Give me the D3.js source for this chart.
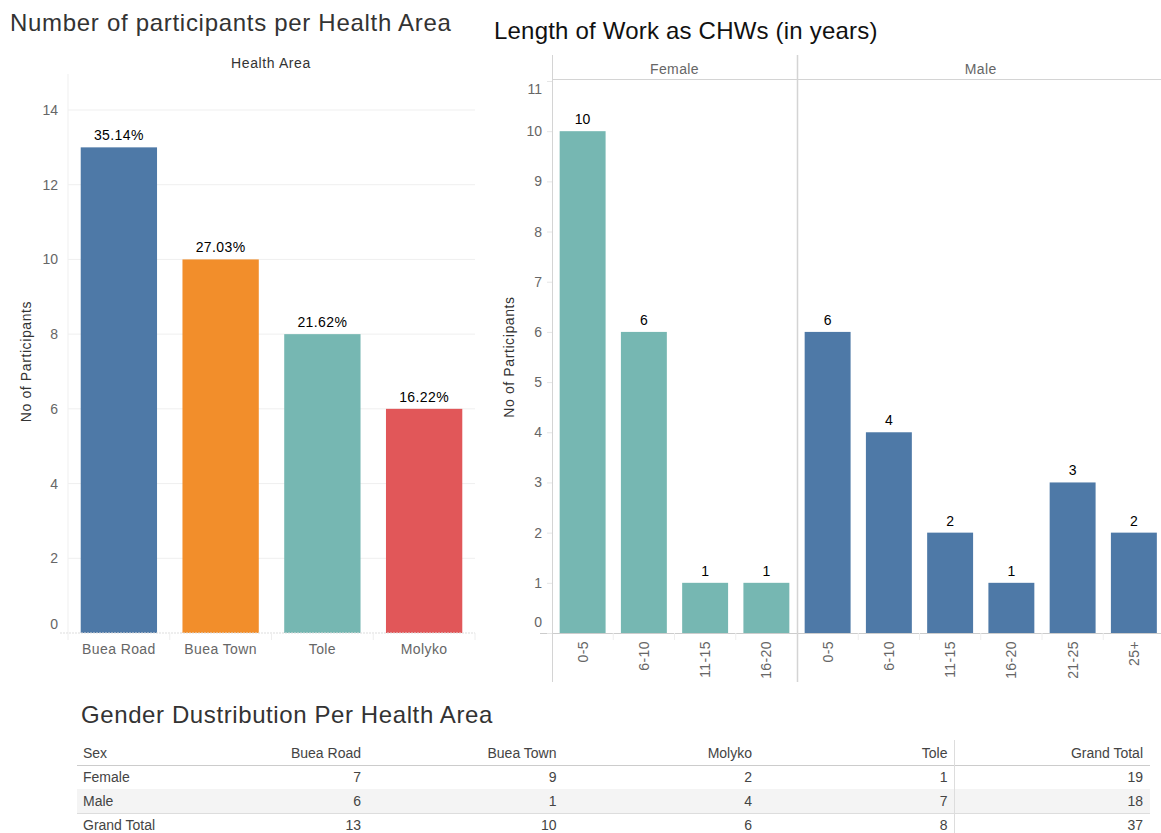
<!DOCTYPE html>
<html>
<head>
<meta charset="utf-8">
<script src="https://cdn.jsdelivr.net/npm/d3@7"></script>
<style>
  body { margin: 0; background: #fff; }
  svg text { font-family: "Liberation Sans", Arial, sans-serif; }
</style>
</head>
<body>
<div class="chart"></div>
<script>
// health area chart
var areas = ['Buea Road', 'Buea Town', 'Tole', 'Molyko'];
var areaCounts = [13, 10, 8, 6];
var areaColors = ['#4e79a7', '#f28e2b', '#76b7b2', '#e15759'];
var areaTicks = [0, 2, 4, 6, 8, 10, 12, 14];

// length of work chart
var femaleYears = ['0-5', '6-10', '11-15', '16-20'];
var femaleCounts = [10, 6, 1, 1];
var maleYears = ['0-5', '6-10', '11-15', '16-20', '21-25', '25+'];
var maleCounts = [6, 4, 2, 1, 3, 2];
var yearTicks = [0, 1, 2, 3, 4, 5, 6, 7, 8, 9, 10, 11];

// table
var tableCols = ['Buea Road', 'Buea Town', 'Molyko', 'Tole'];
var tableFemale = [7, 9, 2, 1];
var tableMale = [6, 1, 4, 7];

const W = 1161, H = 833;
var svg = d3.select('.chart').append('svg')
  .attr('width', W).attr('height', H);

// ---------- left chart ----------
var baseY = 633;
var x1 = d3.scaleBand().domain(areas).range([68, 475]).paddingInner(0.25).paddingOuter(0.125);
var y1 = d3.scaleLinear().domain([0, 14]).range([baseY, 110]);
var total = d3.sum(areaCounts);
var left = areas.map((a, i) => ({name: a, value: areaCounts[i], color: areaColors[i]}));

svg.append('text').attr('x', 10).attr('y', 31)
  .attr('font-size', 24).attr('letter-spacing', 0.7).attr('fill', '#333')
  .text('Number of participants per Health Area');
svg.append('text').attr('x', 271).attr('y', 68)
  .attr('text-anchor', 'middle').attr('font-size', 14).attr('letter-spacing', 0.6).attr('fill', '#333')
  .text('Health Area');

var g1 = svg.append('g');
g1.selectAll('line.grid').data(areaTicks.filter(d => d > 0)).enter()
  .append('line').attr('class', 'grid')
  .attr('x1', 68).attr('x2', 475)
  .attr('y1', d => y1(d)).attr('y2', d => y1(d))
  .attr('stroke', '#efefef');
g1.append('line').attr('x1', 68).attr('x2', 68).attr('y1', 74).attr('y2', baseY)
  .attr('stroke', '#efefef');

var ax1 = g1.append('g').attr('transform', 'translate(68,0)')
  .call(d3.axisLeft(y1).tickValues(areaTicks).tickSize(0).tickPadding(10));
ax1.select('.domain').remove();
ax1.selectAll('text').attr('font-size', 14).attr('fill', '#666')
  .attr('dy', d => d === 0 ? '-0.35em' : '0.32em');

g1.selectAll('rect').data(left).enter().append('rect')
  .attr('x', d => x1(d.name)).attr('width', x1.bandwidth())
  .attr('y', d => y1(d.value)).attr('height', d => baseY - y1(d.value))
  .attr('fill', d => d.color);
g1.selectAll('text.lbl').data(left).enter().append('text').attr('class', 'lbl')
  .attr('x', d => x1(d.name) + x1.bandwidth() / 2).attr('y', d => y1(d.value) - 7)
  .attr('text-anchor', 'middle').attr('font-size', 14).attr('letter-spacing', 0.4).attr('fill', '#000')
  .text(d => (d.value / total * 100).toFixed(2) + '%');

var bx1 = g1.append('g').attr('transform', `translate(0,${baseY})`)
  .call(d3.axisBottom(x1).tickSize(0).tickPadding(11));
bx1.select('.domain').attr('stroke', '#ddd').attr('stroke-dasharray', '2,1')
  .attr('d', 'M60,0H475');
bx1.selectAll('text').attr('font-size', 14).attr('letter-spacing', 0.4).attr('fill', '#666');
g1.selectAll('line.sep').data(d3.range(5)).enter().append('line').attr('class', 'sep')
  .attr('x1', i => 68 + i * x1.step()).attr('x2', i => 68 + i * x1.step())
  .attr('y1', baseY).attr('y2', baseY + 7).attr('stroke', '#eee');

svg.append('text')
  .attr('transform', `translate(31,${(110 + baseY) / 2 - 10}) rotate(-90)`)
  .attr('text-anchor', 'middle').attr('font-size', 14).attr('letter-spacing', 0.6).attr('fill', '#333')
  .text('No of Participants');

// ---------- right chart ----------
var step = 61.25;
var fx0 = 552, fx1 = fx0 + step * femaleYears.length;
var mx1 = fx1 + step * maleYears.length;
var xF = d3.scaleBand().domain(femaleYears).range([fx0, fx1]).paddingInner(0.25).paddingOuter(0.125);
var xM = d3.scaleBand().domain(maleYears).range([fx1, mx1]).paddingInner(0.25).paddingOuter(0.125);
var y2 = d3.scaleLinear().domain([0, 11]).range([baseY, 81]);

svg.append('text').attr('x', 494).attr('y', 39)
  .attr('font-size', 24).attr('letter-spacing', 0.2).attr('fill', '#111')
  .text('Length of Work as CHWs (in years)');

var g2 = svg.append('g');
g2.append('line').attr('x1', fx0).attr('x2', W).attr('y1', 79.5).attr('y2', 79.5).attr('stroke', '#d4d4d4');
g2.append('line').attr('x1', 540).attr('x2', W).attr('y1', baseY + 0.5).attr('y2', baseY + 0.5).attr('stroke', '#ccc');
[fx0, fx1].forEach(x => {
  g2.append('line').attr('x1', x + 0.5).attr('x2', x + 0.5).attr('y1', 55).attr('y2', 682)
    .attr('stroke', '#d4d4d4').attr('stroke-width', x === fx1 ? 1.5 : 1);
});
g2.append('text').attr('x', (fx0 + fx1) / 2).attr('y', 74).attr('text-anchor', 'middle')
  .attr('font-size', 14).attr('letter-spacing', 0.4).attr('fill', '#666').text('Female');
g2.append('text').attr('x', (fx1 + mx1) / 2).attr('y', 74).attr('text-anchor', 'middle')
  .attr('font-size', 14).attr('letter-spacing', 0.4).attr('fill', '#666').text('Male');

var ax2 = g2.append('g').attr('transform', `translate(${fx0},0)`)
  .call(d3.axisLeft(y2).tickValues(yearTicks).tickSize(5).tickPadding(5));
ax2.select('.domain').remove();
ax2.selectAll('.tick line').attr('stroke', '#e6e6e6');
ax2.selectAll('text').attr('font-size', 14).attr('fill', '#666')
  .attr('dy', d => d === 0 ? '-0.45em' : (d === 11 ? '0.9em' : '0.32em'));

function panel(scale, cats, vals, color) {
  var rows = cats.map((c, i) => ({cat: c, value: vals[i]}));
  var p = g2.append('g');
  p.selectAll('rect').data(rows).enter().append('rect')
    .attr('x', d => scale(d.cat)).attr('width', scale.bandwidth())
    .attr('y', d => y2(d.value)).attr('height', d => baseY - y2(d.value))
    .attr('fill', color);
  p.selectAll('text.lbl').data(rows).enter().append('text').attr('class', 'lbl')
    .attr('x', d => scale(d.cat) + scale.bandwidth() / 2).attr('y', d => y2(d.value) - 7)
    .attr('text-anchor', 'middle').attr('font-size', 14).attr('fill', '#000')
    .text(d => d.value);
  var bx = p.append('g').attr('transform', `translate(0,${baseY})`)
    .call(d3.axisBottom(scale).tickSize(0));
  bx.select('.domain').remove();
  bx.selectAll('text').attr('font-size', 14).attr('letter-spacing', 0.4).attr('fill', '#666')
    .attr('transform', 'rotate(-90)').attr('text-anchor', 'end')
    .attr('x', -8).attr('y', 0).attr('dy', '0.35em');
  p.selectAll('line.sep').data(d3.range(1, cats.length)).enter().append('line').attr('class', 'sep')
    .attr('x1', i => scale.range()[0] + i * scale.step()).attr('x2', i => scale.range()[0] + i * scale.step())
    .attr('y1', baseY).attr('y2', baseY + 7).attr('stroke', '#eee');
}
panel(xF, femaleYears, femaleCounts, '#76b7b2');
panel(xM, maleYears, maleCounts, '#4e79a7');

svg.append('text')
  .attr('transform', `translate(514,${(81 + baseY) / 2}) rotate(-90)`)
  .attr('text-anchor', 'middle').attr('font-size', 14).attr('letter-spacing', 0.6).attr('fill', '#333')
  .text('No of Participants');

// ---------- table ----------
svg.append('text').attr('x', 81).attr('y', 723)
  .attr('font-size', 24).attr('letter-spacing', 0.6).attr('fill', '#333')
  .text('Gender Dustribution Per Health Area');

var colRight = d3.scalePoint().domain(tableCols.concat(['Grand Total'])).range([361, 1143]);
var tableRows = [
  {sex: 'Female', vals: tableFemale},
  {sex: 'Male', vals: tableMale},
  {sex: 'Grand Total', vals: tableFemale.map((v, i) => v + tableMale[i])}
];
tableRows.forEach(r => r.total = d3.sum(r.vals));
var rowY = d3.scaleBand().domain(tableRows.map(r => r.sex)).range([765, 837]);

var gt = svg.append('g');
gt.append('rect').attr('x', 77).attr('width', 1073)
  .attr('y', rowY('Male')).attr('height', rowY.bandwidth()).attr('fill', '#f4f4f4');
gt.append('line').attr('x1', 77).attr('x2', 1150).attr('y1', 765.5).attr('y2', 765.5).attr('stroke', '#ccc');
gt.append('line').attr('x1', 77).attr('x2', 1150).attr('y1', rowY('Grand Total') + 0.5)
  .attr('y2', rowY('Grand Total') + 0.5).attr('stroke', '#ddd');
gt.append('line').attr('x1', 954.5).attr('x2', 954.5).attr('y1', 740).attr('y2', H).attr('stroke', '#ddd');

gt.append('text').attr('x', 83).attr('y', 758).attr('font-size', 14).attr('fill', '#444').text('Sex');
gt.selectAll('text.hdr').data(colRight.domain()).enter().append('text').attr('class', 'hdr')
  .attr('x', d => colRight(d)).attr('y', 758).attr('text-anchor', 'end')
  .attr('font-size', 14).attr('fill', '#444').text(d => d);

tableRows.forEach(r => {
  var yy = rowY(r.sex) + rowY.bandwidth() / 2 + 5;
  gt.append('text').attr('x', 83).attr('y', yy).attr('font-size', 14).attr('fill', '#444').text(r.sex);
  r.vals.concat([r.total]).forEach((v, i) => {
    gt.append('text').attr('x', colRight(colRight.domain()[i])).attr('y', yy)
      .attr('text-anchor', 'end').attr('font-size', 14).attr('fill', '#444').text(v);
  });
});
</script>
</body>
</html>
